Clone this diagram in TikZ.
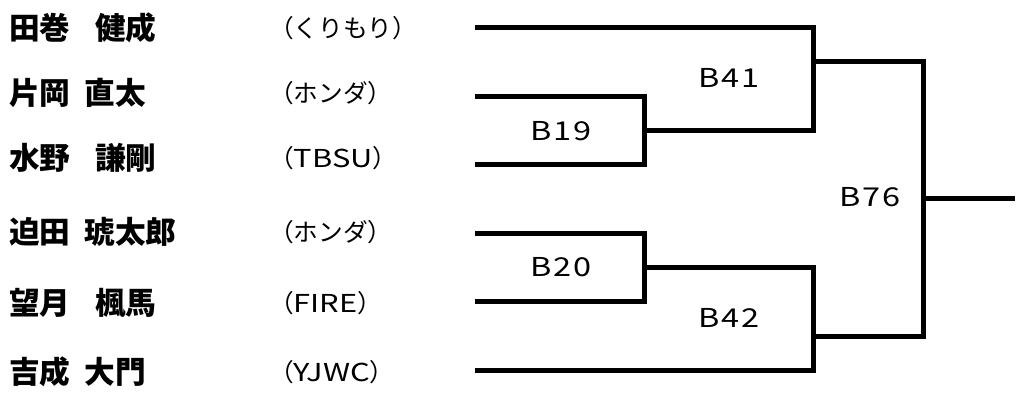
\documentclass[tikz,border=0pt]{standalone}
\usepackage{fontspec}
\setmainfont{Noto Sans CJK JP}
\newfontfamily\widefont[FakeStretch=1.25]{Noto Sans CJK JP}
\newfontfamily\matchfont[FakeStretch=1.25,LetterSpace=6]{Noto Sans CJK JP}
\newcommand{\wsp}{\hspace{.8em}}
\newcommand{\nsp}{\hspace{.45em}}

\begin{document}
\begin{tikzpicture}[
  x=0.75pt,y=-0.75pt,
  bracket/.style={line width=3.75pt,line join=miter},
  player/.style={anchor=west,inner sep=0pt,font=\fontsize{23}{25}\selectfont\bfseries},
  club/.style={anchor=west,inner sep=0pt,font=\fontsize{18.5}{20}\selectfont},
  match/.style={inner sep=0pt,font=\fontsize{19.5}{22}\selectfont\matchfont}
]
  \useasboundingbox (0,0) rectangle (1018,394);
  % players
  \node[player] (n1) at (9,28)  {田巻\wsp 健成};
  \node[player] (n2) at (9,93)  {片岡\nsp 直太};
  \node[player] (n3) at (9,158) {水野\wsp 謙剛};
  \node[player] (n4) at (9,232) {迫田\nsp 琥太郎};
  \node[player] (n5) at (9,303) {望月\wsp 楓馬};
  \node[player] (n6) at (9,372) {吉成\nsp 大門};
  % clubs
  \node[club] (t1) at (269,28)  {（くりもり）};
  \node[club] (t2) at (269,93)  {（ホンダ）};
  \node[club] (t3) at (269,158) {（{\widefont TBSU}）};
  \node[club] (t4) at (269,232) {（ホンダ）};
  \node[club] (t5) at (269,303) {（{\widefont FIRE}）};
  \node[club] (t6) at (269,372) {（{\widefont YJWC}）};
  % lines
  \coordinate (p1) at (475,27);
  \coordinate (p2) at (475,96);
  \coordinate (p3) at (475,164);
  \coordinate (p4) at (475,233);
  \coordinate (p5) at (475,301);
  \coordinate (p6) at (475,370);
  \coordinate (m19) at (644,130);
  \coordinate (m20) at (644,267);
  \coordinate (m41) at (813,61);
  \coordinate (m42) at (813,336);
  \coordinate (m76) at (923,198);
  \coordinate (win) at (1015,198);
  \draw[bracket] (p2) -| (m19) |- (p3);
  \draw[bracket] (p4) -| (m20) |- (p5);
  \draw[bracket] (p1) -| (m41) |- (m19);
  \draw[bracket] (m20) -| (m42) |- (p6);
  \draw[bracket] (m41) -| (m76) |- (m42);
  \draw[bracket] (m76) -- (win);
  % match labels
  \node[match] (b19) at (561,131) {B19};
  \node[match] (b20) at (561,267) {B20};
  \node[match] (b41) at (729,78)  {B41};
  \node[match] (b42) at (729,318) {B42};
  \node[match] (b76) at (870,197) {B76};
\end{tikzpicture}
\end{document}
